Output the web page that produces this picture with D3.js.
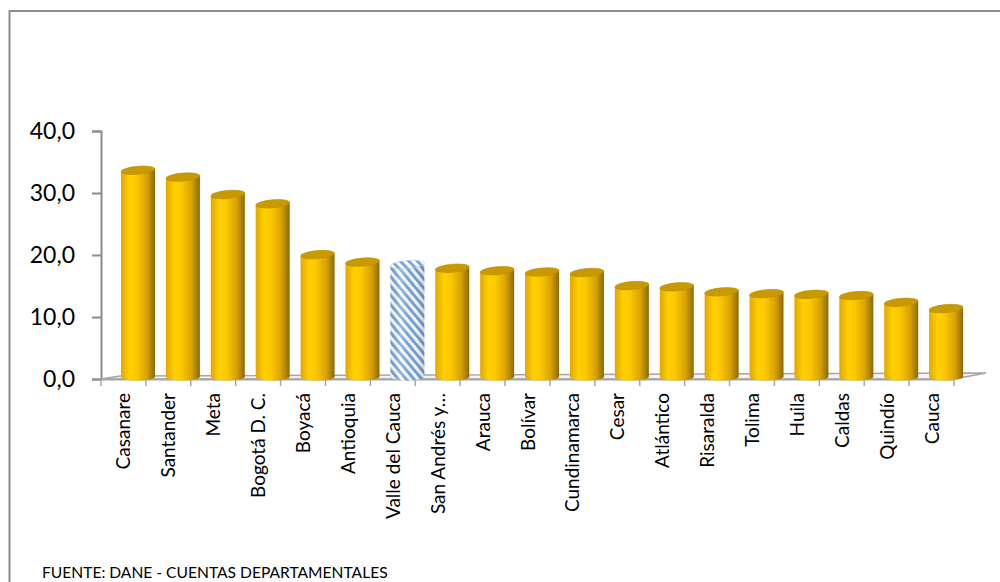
<!DOCTYPE html>
<html>
<head>
<meta charset="utf-8">
<script src="https://cdn.jsdelivr.net/npm/d3@7"></script>
<style>
  html, body { margin: 0; padding: 0; background: #fff; }
  svg { display: block; font-family: Lato, "Open Sans", sans-serif; }
</style>
</head>
<body>
<svg id="chart" width="1000" height="582"></svg>
<script>
// PIB per cápita por departamento (millones de pesos)
var departamentos = ["Casanare", "Santander", "Meta", "Bogotá D. C.", "Boyacá", "Antioquia",
  "Valle del Cauca", "San Andrés y Providencia", "Arauca", "Bolívar", "Cundinamarca", "Cesar",
  "Atlántico", "Risaralda", "Tolima", "Huila", "Caldas", "Quindío", "Cauca"];
var valores = [33.1, 32.0, 29.2, 27.7, 19.5, 18.3, 17.9, 17.3, 16.9, 16.7, 16.6, 14.5,
  14.3, 13.5, 13.2, 13.1, 12.9, 11.8, 10.8];
var destacado = "Valle del Cauca";
var yTicks = [0, 10, 20, 30, 40];
var fuente = "FUENTE: DANE - CUENTAS DEPARTAMENTALES";

var svg = d3.select("#chart");
var defs = svg.append("defs");

function valor(d) { return valores[departamentos.indexOf(d)]; }

// frame of the chart area
svg.append("rect")
  .attr("x", 9.5).attr("y", 11)
  .attr("width", 1020).attr("height", 620)
  .attr("fill", "none").attr("stroke", "#8c8c8c").attr("stroke-width", 2);

var x = d3.scaleBand().domain(departamentos).range([101, 954]).padding(0);
var y = d3.scaleLinear().domain([0, 40]).range([379, 131]);

// depth offset of the 3d floor
var dx = 20, dy = -2;
var barW = 34;

// gradients for the cylinders
var gold = defs.append("linearGradient").attr("id", "gold")
  .attr("x1", "0%").attr("x2", "100%").attr("y1", "0%").attr("y2", "0%");
gold.append("stop").attr("offset", "0%").attr("stop-color", "#e0a800");
gold.append("stop").attr("offset", "25%").attr("stop-color", "#ffd000");
gold.append("stop").attr("offset", "45%").attr("stop-color", "#fcc800");
gold.append("stop").attr("offset", "75%").attr("stop-color", "#d9a300");
gold.append("stop").attr("offset", "100%").attr("stop-color", "#8a6800");

var shade = defs.append("linearGradient").attr("id", "shade")
  .attr("x1", "0%").attr("x2", "100%").attr("y1", "0%").attr("y2", "0%");
shade.append("stop").attr("offset", "0%").attr("stop-color", "#000").attr("stop-opacity", 0.06);
shade.append("stop").attr("offset", "30%").attr("stop-color", "#fff").attr("stop-opacity", 0.2);
shade.append("stop").attr("offset", "75%").attr("stop-color", "#000").attr("stop-opacity", 0.04);
shade.append("stop").attr("offset", "100%").attr("stop-color", "#000").attr("stop-opacity", 0.18);

var stripes = defs.append("pattern").attr("id", "stripes")
  .attr("patternUnits", "userSpaceOnUse")
  .attr("width", 6).attr("height", 6)
  .attr("patternTransform", "rotate(-40)");
stripes.append("rect").attr("width", 6).attr("height", 6).attr("fill", "#fff");
stripes.append("rect").attr("width", 2.8).attr("height", 6).attr("fill", "#72a3de");

// floor
var x0 = x.range()[0], x1 = x.range()[1];
svg.append("path")
  .attr("d", "M" + x0 + ",379 L" + (x0 + 19) + ",376 L" + (x1 + 32) + ",373 L" + x1 + ",379 Z")
  .attr("fill", "#f4f4f4").attr("stroke", "#a6a6a6").attr("stroke-width", 1.5);

// y axis
var yAxis = d3.axisLeft(y).tickValues(yTicks).tickSize(9)
  .tickFormat(function (d) { return d3.format(".1f")(d).replace(".", ","); });
var gy = svg.append("g").attr("transform", "translate(101,0)").call(yAxis);
gy.select(".domain").attr("stroke", "#8c8c8c").attr("stroke-width", 2);
gy.selectAll(".tick line").attr("stroke", "#8c8c8c").attr("stroke-width", 2);
gy.selectAll(".tick text").attr("x", -26).attr("fill", "#000")
  .style("font-size", "23px").style("font-family", "Lato, sans-serif");

// x axis
var xAxis = d3.axisBottom(x).tickSize(0).tickFormat("");
var gx = svg.append("g").attr("transform", "translate(0,379)").call(xAxis);
gx.select(".domain").attr("stroke", "#a6a6a6").attr("stroke-width", 2);
gx.selectAll(".bound").data(departamentos.concat([null])).enter().append("line")
  .attr("x1", function (d, i) { return x0 + i * x.bandwidth(); })
  .attr("x2", function (d, i) { return x0 + i * x.bandwidth(); })
  .attr("y1", 0).attr("y2", 7)
  .attr("stroke", "#a6a6a6").attr("stroke-width", 1.5);

// bars as cylinders
var bars = svg.selectAll("g.bar").data(departamentos).enter().append("g").attr("class", "bar");
function cylPath(d) {
  var l = x(d) + dx, r = l + barW, top = y(valor(d)) + dy, bot = 377;
  var rx = barW / 2, ry = 4;
  return "M" + l + "," + top + " L" + l + "," + bot +
    " A" + rx + "," + ry + " 0 0 0 " + r + "," + (bot - 1) +
    " L" + r + "," + (top - 3) + " Z";
}
bars.append("path")
  .attr("d", cylPath)
  .attr("fill", function (d) { return d === destacado ? "url(#stripes)" : "url(#gold)"; });
bars.filter(function (d) { return d === destacado; }).append("path")
  .attr("d", cylPath).attr("fill", "url(#shade)");
bars.append("ellipse")
  .attr("cx", function (d) { return x(d) + dx + barW / 2; })
  .attr("cy", function (d) { return y(valor(d)) + dy - 1.5; })
  .attr("rx", barW / 2).attr("ry", 4)
  .attr("transform", function (d) {
    return "rotate(-5," + (x(d) + dx + barW / 2) + "," + (y(valor(d)) + dy - 1.5) + ")";
  })
  .attr("fill", function (d) { return d === destacado ? "url(#stripes)" : "#c99a00"; })
  .attr("stroke", function (d) { return d === destacado ? "#b5cdec" : "#b78c00"; })
  .attr("stroke-width", 0.6);

// category labels, rotated, truncated like Excel does
var maxLen = 134;
svg.selectAll("text.cat").data(departamentos).enter().append("text")
  .attr("class", "cat")
  .attr("transform", function (d) {
    return "translate(" + (x(d) + x.bandwidth() / 2 + 7) + ",393) rotate(-90)";
  })
  .attr("text-anchor", "end")
  .style("font-size", "19px")
  .attr("fill", "#000")
  .text(function (d) { return d; })
  .each(function (d) {
    var t = d3.select(this);
    if (this.getComputedTextLength() > maxLen) {
      var s = d;
      while (s.length > 1) {
        s = s.slice(0, -1);
        t.text(s.trim() + "…");
        if (this.getComputedTextLength() <= maxLen) break;
      }
    }
  });

// source
svg.append("text")
  .attr("x", 42).attr("y", 578)
  .style("font-size", "15.6px")
  .attr("fill", "#000")
  .text(fuente);
</script>
</body>
</html>
